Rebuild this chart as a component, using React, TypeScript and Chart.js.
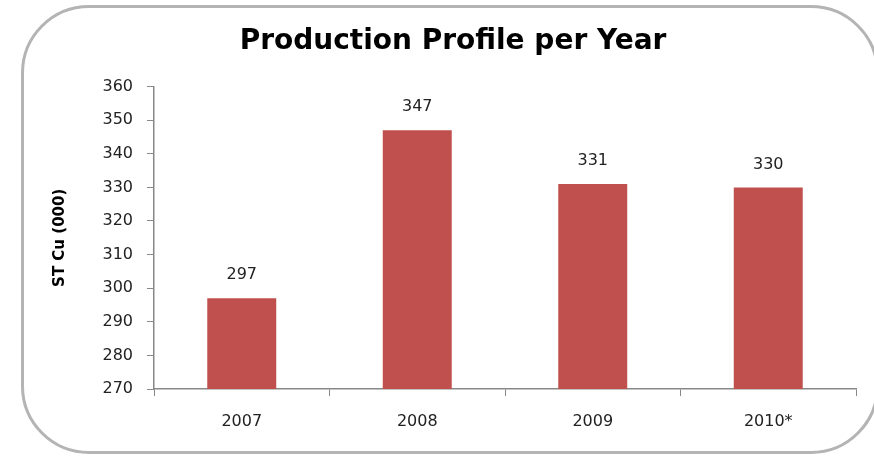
import React, { useEffect, useRef } from "react";
import { Chart, registerables } from "chart.js";

Chart.register(...registerables);

const categories = ["2007", "2008", "2009", "2010*"];
const production = [297, 347, 331, 330];
const yMin = 270;
const yMax = 360;
const yStep = 10;
const chartTitle = "Production Profile per Year";
const yAxisTitle = "ST Cu (000)";

const FONT = "'DejaVu Sans', sans-serif";

const dataLabelPlugin = {
  id: "dataLabels",
  afterDatasetsDraw(chart: any) {
    const ctx = chart.ctx;
    const meta = chart.getDatasetMeta(0);
    ctx.save();
    ctx.font = `16px ${FONT}`;
    ctx.fillStyle = "#222";
    ctx.textAlign = "center";
    ctx.textBaseline = "middle";
    meta.data.forEach((bar: any, i: number) => {
      ctx.fillText(String(production[i]), bar.x, bar.y - 23);
    });
    ctx.restore();
  },
};

export default function App() {
  const ref = useRef<HTMLCanvasElement | null>(null);
  useEffect(() => {
    if (!ref.current) return;
    const chart = new Chart(ref.current, {
      type: "bar",
      data: {
        labels: categories,
        datasets: [
          {
            data: production,
            backgroundColor: "#C0504D",
            borderWidth: 0,
            categoryPercentage: 1,
            barPercentage: 0.393,
          },
        ],
      },
      options: {
        animation: false,
        responsive: false,
        devicePixelRatio: 1,
        layout: { padding: { left: 50, right: 18, top: 0, bottom: 0 } },
        plugins: {
          legend: { display: false },
          tooltip: { enabled: false },
          title: {
            display: true,
            text: chartTitle,
            color: "#000",
            font: { family: FONT, size: 28, weight: "bold" },
            padding: { top: 25, bottom: 28 },
          },
        },
        scales: {
          x: {
            grid: {
              display: true,
              drawOnChartArea: false,
              drawTicks: true,
              tickLength: 7,
              color: "#888",
              offset: true,
            },
            border: { display: true, color: "#888", width: 1.5 },
            ticks: { color: "#222", font: { family: FONT, size: 16 }, padding: 16 },
            afterFit: (s: any) => {
              s.height = 67;
            },
          },
          y: {
            min: yMin,
            max: yMax,
            grid: {
              display: true,
              drawOnChartArea: false,
              drawTicks: true,
              tickLength: 7,
              color: "#888",
            },
            border: { display: true, color: "#888", width: 1.5 },
            ticks: {
              stepSize: yStep,
              color: "#222",
              font: { family: FONT, size: 16 },
              padding: 14,
            },
            title: {
              display: true,
              text: yAxisTitle,
              color: "#000",
              font: { family: FONT, size: 15, weight: "bold" },
              padding: { top: 1, bottom: 0 },
            },
            afterFit: (s: any) => {
              s.width = 104;
            },
          },
        },
      },
      plugins: [dataLabelPlugin],
    });
    return () => chart.destroy();
  }, []);

  return (
    <div
      style={{
        position: "fixed",
        left: 0,
        top: 0,
        width: 874,
        height: 456,
        overflow: "hidden",
        background: "#fff",
      }}
    >
      <div
        style={{
          position: "absolute",
          left: 21,
          top: 5,
          width: 858,
          height: 449,
          boxSizing: "border-box",
          border: "3px solid #b4b4b4",
          borderRadius: 68,
        }}
      />
      <canvas
        ref={ref}
        width={874}
        height={456}
        style={{ position: "absolute", left: 0, top: 0, width: 874, height: 456 }}
      />
    </div>
  );
}
